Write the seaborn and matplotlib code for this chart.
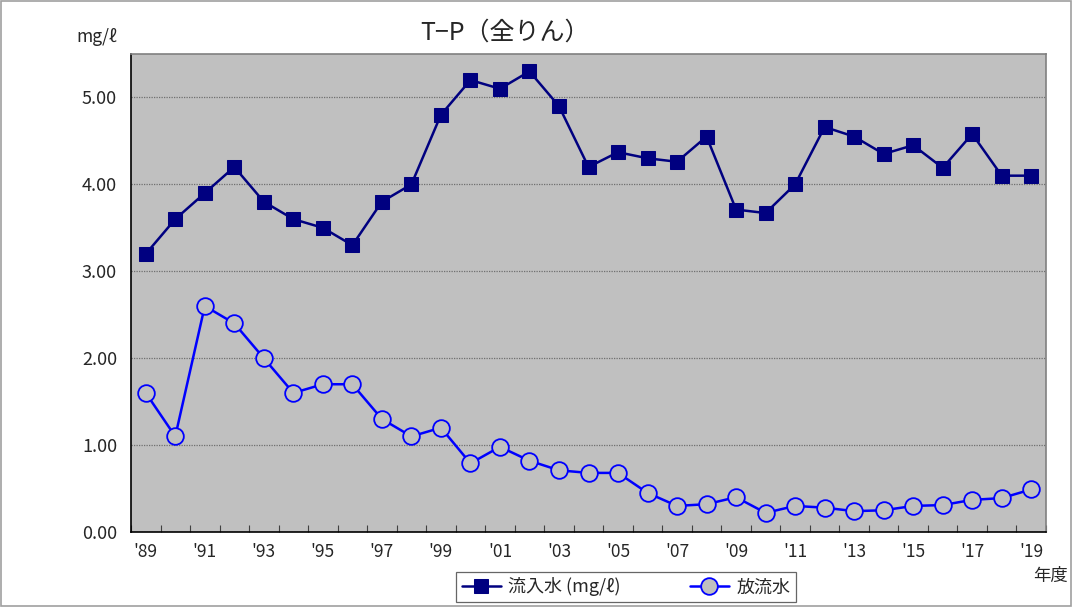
import matplotlib
matplotlib.use("Agg")
import matplotlib.pyplot as plt
import seaborn as sns
import pandas as pd
import numpy as np
from matplotlib.patches import Rectangle

years = list(range(1989, 2020))
tick_labels = ["'%02d" % (y % 100) for y in years]
inflow = [3.2, 3.6, 3.9, 4.2, 3.8, 3.6, 3.5, 3.3, 3.8, 4.0, 4.8, 5.2, 5.1, 5.3, 4.9,
          4.2, 4.37, 4.3, 4.26, 4.55, 3.71, 3.67, 4.0, 4.66, 4.55, 4.35, 4.45, 4.19, 4.58, 4.1, 4.1]
effluent = [1.6, 1.1, 2.6, 2.4, 2.0, 1.6, 1.7, 1.7, 1.3, 1.1, 1.2, 0.79, 0.98, 0.82, 0.71,
            0.68, 0.68, 0.45, 0.30, 0.32, 0.40, 0.22, 0.30, 0.28, 0.24, 0.25, 0.30, 0.31, 0.37, 0.39, 0.49]
series_names = ["流入水 (mg/ℓ)", "放流水"]
title = "T−P（全りん）"
y_unit = "mg/ℓ"
x_unit = "年度"

sns.set_theme(style="white")
plt.rcParams['font.family'] = ['Noto Sans CJK JP', 'DejaVu Sans']

fig = plt.figure(figsize=(10.72, 6.07), dpi=100)
W, H = 1072, 607
ax = fig.add_axes([131 / W, 1 - 532 / H, (1046 - 131) / W, (532 - 54) / H])
ax.set_facecolor("#C0C0C0")

idx = np.arange(len(years))
df = pd.DataFrame({"idx": idx, "inflow": inflow, "effluent": effluent})

sns.lineplot(data=df, x="idx", y="inflow", ax=ax, color="#000080", lw=1.8,
             marker="s", markersize=10, markerfacecolor="#000080",
             markeredgecolor="#000080", label=series_names[0], zorder=3)
sns.lineplot(data=df, x="idx", y="effluent", ax=ax, color="#0000FF", lw=1.8,
             marker="o", markersize=12, markerfacecolor="#C0C0C0",
             markeredgecolor="#0000FF", markeredgewidth=1.3,
             label=series_names[1], zorder=3)

ax.set_xlim(-0.5, len(years) - 0.5)
ax.set_ylim(0, 5.5)
ax.set_yticks([0, 1, 2, 3, 4, 5])
ax.set_yticklabels(["%.2f" % v for v in [0, 1, 2, 3, 4, 5]], fontsize=13)
ax.yaxis.grid(True, color="#707070", linestyle=(0, (1, 1)), linewidth=0.9)
ax.set_axisbelow(True)
ax.tick_params(axis="y", length=0, pad=10)

ax.set_xticks(idx[::2])
ax.set_xticklabels(tick_labels[::2], fontsize=12.5)
ax.set_xticks(np.arange(-0.5, len(years), 1.0), minor=True)
ax.tick_params(axis="x", which="major", length=0, pad=8)
ax.tick_params(axis="x", which="minor", direction="in", length=5, width=0.8,
               color="#404040", bottom=True)
ax.set_xlabel("")
ax.set_ylabel("")

for side in ["left", "bottom"]:
    ax.spines[side].set_color("black")
    ax.spines[side].set_linewidth(1.2)
for side in ["top", "right"]:
    ax.spines[side].set_color("#808080")
    ax.spines[side].set_linewidth(1.2)
    ax.spines[side].set_visible(True)

ax.get_legend().remove()
handles, labels = ax.get_legend_handles_labels()
leg = fig.legend(handles, labels, loc="center", bbox_to_anchor=(626 / W, 1 - 587 / H),
                 ncol=2, fontsize=13, frameon=True, fancybox=False, edgecolor="#404040",
                 handlelength=2.2, handletextpad=0.4, columnspacing=3.8, borderpad=0.3,
                 borderaxespad=0.0)
leg.get_frame().set_linewidth(0.9)
for t in leg.get_texts():
    pass
leg._legend_box.sep = 0
leg.get_frame().set_boxstyle("square", pad=0.0)

fig.text(505 / W, 1 - 33 / H, title, ha="center", va="center", fontsize=18)
fig.text(97 / W, 1 - 37 / H, y_unit, ha="center", va="center", fontsize=12.5)
fig.text(1050 / W, 1 - 576 / H, x_unit, ha="center", va="center", fontsize=12.5)

fig.patches.append(Rectangle((1 / W, 1 / H), (W - 2) / W, (H - 2) / H,
                             transform=fig.transFigure, fill=False,
                             edgecolor="#A0A0A0", linewidth=1.2))

fig.savefig("out.png", dpi=100)
